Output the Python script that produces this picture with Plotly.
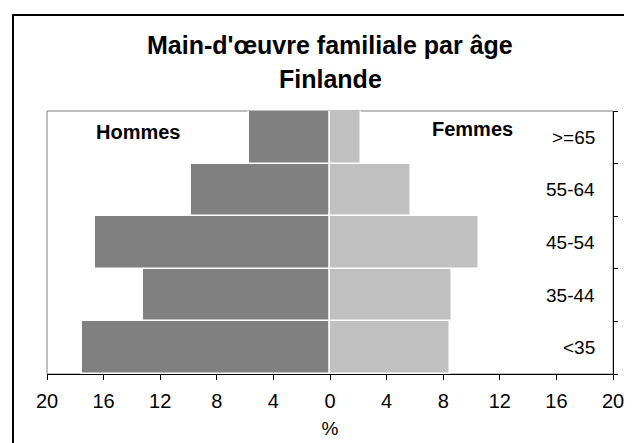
import plotly.graph_objects as go

categories = ["<35", "35-44", "45-54", "55-64", ">=65"]
hommes = [17.5, 13.2, 16.6, 9.85, 5.7]
femmes = [8.5, 8.65, 10.5, 5.7, 2.2]
tick_vals = [-20, -16, -12, -8, -4, 0, 4, 8, 12, 16, 20]
tick_text = ["20", "16", "12", "8", "4", "0", "4", "8", "12", "16", "20"]

FONT = "Arial, Liberation Sans, sans-serif"

# the page body adds an 8px offset, so margins are compensated
PW, PH = 566, 263  # plot area size in px

fig = go.Figure()
fig.add_trace(go.Bar(
    y=categories, x=[-v for v in hommes], orientation="h", name="Hommes",
    marker=dict(color="#808080", line=dict(color="white", width=1.5)),
    hoverinfo="skip",
))
fig.add_trace(go.Bar(
    y=categories, x=femmes, orientation="h", name="Femmes",
    marker=dict(color="#C0C0C0", line=dict(color="white", width=1.5)),
    hoverinfo="skip",
))

fig.update_layout(
    width=632, height=443,
    margin=dict(l=39, r=27, t=103, b=77),
    paper_bgcolor="white", plot_bgcolor="white",
    barmode="relative", bargap=0.0,
    showlegend=False,
    font=dict(family=FONT, color="black", size=19),
    xaxis=dict(
        range=[-20, 20], tickvals=tick_vals, ticktext=tick_text,
        showline=True, linecolor="black", linewidth=1,
        ticks="outside", ticklen=5, tickcolor="black",
        ticklabelstandoff=4,
        showgrid=False, zeroline=False, automargin=False,
        tickfont=dict(size=20, color="black"),
        title=dict(text="%", font=dict(size=19, color="black"), standoff=10),
    ),
    yaxis=dict(
        side="right", showline=True, linecolor="black", linewidth=1,
        ticks="outside", ticklen=4, tickcolor="black",
        tickson="boundaries", showticklabels=False,
        showgrid=False, zeroline=False, automargin=False,
    ),
)

# category labels inside the plot, right-aligned near the right axis
for c in categories:
    fig.add_annotation(text=c, xref="paper", yref="y", x=(597 - 47) / PW, y=c,
                       xanchor="right", yanchor="middle", showarrow=False,
                       font=dict(size=19, color="black"))

# plot area frame (grey left/top) and outer chart border
fig.add_shape(type="rect", xref="paper", yref="paper", x0=0, x1=1, y0=0, y1=1,
              line=dict(color="#808080", width=1), layer="below")
fig.add_shape(type="rect", xref="paper", yref="paper",
              x0=(13 - 47) / PW, x1=1.2, y0=-0.5, y1=(374 - 15) / PH,
              line=dict(color="black", width=2), layer="below")

fig.add_annotation(text="<b>Main-d'œuvre familiale par âge</b>", xref="paper", yref="paper",
                   x=0.5, y=(374 - 45) / PH, showarrow=False, font=dict(size=25),
                   xanchor="center", yanchor="middle")
fig.add_annotation(text="<b>Finlande</b>", xref="paper", yref="paper",
                   x=0.5, y=(374 - 79) / PH, showarrow=False, font=dict(size=25),
                   xanchor="center", yanchor="middle")
fig.add_annotation(text="<b>Hommes</b>", xref="x", yref="paper",
                   x=-13.6, y=(374 - 132) / PH, showarrow=False, font=dict(size=20),
                   xanchor="center", yanchor="middle")
fig.add_annotation(text="<b>Femmes</b>", xref="x", yref="paper",
                   x=10.1, y=(374 - 129) / PH, showarrow=False, font=dict(size=20),
                   xanchor="center", yanchor="middle")

fig.write_html("out.html")
